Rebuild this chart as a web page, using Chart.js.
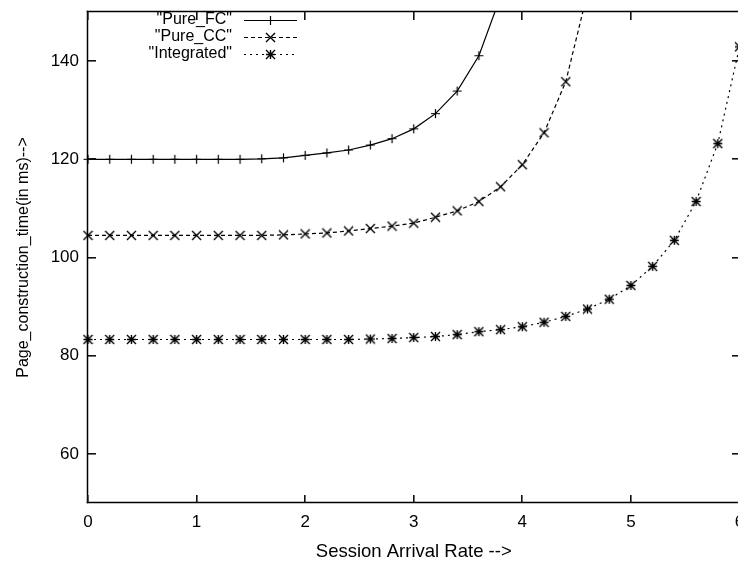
<!DOCTYPE html>
<html>
<head>
<meta charset="utf-8">
<script src="https://cdn.jsdelivr.net/npm/chart.js@4.4.1/dist/chart.umd.min.js"></script>
<style>
  html, body { margin: 0; padding: 0; background: #fff; overflow: hidden; }
  #wrap { width: 760px; height: 565px; }
</style>
</head>
<body>
<div id="wrap"><canvas id="c" width="760" height="565"></canvas></div>
<script>
// Session arrival rate (x) and page construction time in ms (y)
const rates = [0, 0.2, 0.4, 0.6, 0.8, 1.0, 1.2, 1.4, 1.6, 1.8, 2.0, 2.2, 2.4, 2.6, 2.8,
               3.0, 3.2, 3.4, 3.6, 3.8, 4.0, 4.2, 4.4, 4.6, 4.8, 5.0, 5.2, 5.4, 5.6, 5.8, 6.0];

const pureFC = [120.0, 120.0, 120.0, 120.0, 120.0, 120.0, 120.0, 120.0, 120.1, 120.3,
                120.8, 121.3, 121.9, 122.9, 124.2, 126.2, 129.3, 133.9, 141.1, 153.2];

const pureCC = [104.5, 104.5, 104.5, 104.5, 104.5, 104.5, 104.5, 104.5, 104.5, 104.6,
                104.8, 105.0, 105.4, 105.9, 106.4, 107.0, 108.2, 109.5, 111.4, 114.4,
                118.9, 125.4, 135.8, 153.9];

const integrated = [83.3, 83.3, 83.3, 83.3, 83.3, 83.3, 83.3, 83.3, 83.3, 83.3,
                    83.3, 83.3, 83.3, 83.4, 83.5, 83.7, 83.9, 84.3, 84.9, 85.3,
                    85.9, 86.8, 88.0, 89.5, 91.5, 94.3, 98.2, 103.5, 111.4, 123.2, 142.9];

const seriesNames = ['"Pure_FC"', '"Pure_CC"', '"Integrated"'];
const xTicks = [0, 1, 2, 3, 4, 5, 6];
const yTicks = [60, 80, 100, 120, 140];
const xTitle = 'Session Arrival Rate -->';
const yTitle = 'Page_construction_time(in ms)-->';

const FONT = 'Liberation Sans, Arial, Helvetica, sans-serif';

// gnuplot-like point symbols: plus, cross, asterisk
function makeMarker(kind) {
  const s = 11, c = 5.5, h = 4.5;
  const cv = document.createElement('canvas');
  cv.width = s; cv.height = s;
  const g = cv.getContext('2d');
  g.strokeStyle = '#000';
  g.lineWidth = kind === 'plus' ? 1.2 : 1.4;
  g.beginPath();
  if (kind === 'plus' || kind === 'star') {
    g.moveTo(c - h, c); g.lineTo(c + h, c);
    g.moveTo(c, c - h); g.lineTo(c, c + h);
  }
  if (kind === 'cross' || kind === 'star') {
    g.moveTo(c - h, c - h); g.lineTo(c + h, c + h);
    g.moveTo(c - h, c + h); g.lineTo(c + h, c - h);
  }
  g.stroke();
  return cv;
}

function toPoints(ys) {
  return ys.map((y, i) => ({ x: rates[i], y }));
}

const styles = [
  { dash: [], marker: makeMarker('plus') },
  { dash: [4, 3], marker: makeMarker('cross') },
  { dash: [2, 4], marker: makeMarker('star') }
];

const datasets = [pureFC, pureCC, integrated].map((ys, i) => ({
  label: seriesNames[i],
  data: toPoints(ys),
  borderColor: '#000',
  backgroundColor: '#000',
  borderWidth: 1.2,
  borderDash: styles[i].dash,
  pointStyle: styles[i].marker,
  pointRadius: 5,
  pointHoverRadius: 5,
  tension: 0,
  fill: false,
  clip: { left: 10, right: 10, top: 0, bottom: 0 }
}));

// Box border with inward ticks on all four sides
const frameTicks = {
  id: 'frameTicks',
  afterDraw(chart) {
    const ctx = chart.ctx;
    const a = chart.chartArea;
    const xs = chart.scales.x, ys = chart.scales.y;
    const L = a.left - 0.5, R = a.right, T = a.top - 0.5, B = a.bottom - 0.5;
    const tl = 8;
    ctx.save();
    ctx.strokeStyle = '#000';
    ctx.lineWidth = 1.5;
    ctx.setLineDash([]);
    ctx.lineCap = 'square';
    const seg = (x1, y1, x2, y2) => {
      ctx.beginPath();
      ctx.moveTo(x1, y1);
      ctx.lineTo(x2, y2);
      ctx.stroke();
    };
    seg(L, T, R, T);
    seg(L, B, R, B);
    seg(L, T, L, B);
    seg(R, T, R, B);
    // tick marks, pixel aligned
    ctx.fillStyle = '#111';
    yTicks.forEach(v => {
      const p = Math.round(ys.getPixelForValue(v));
      ctx.fillRect(Math.round(L), p - 1, tl, 1.6);
      ctx.fillRect(Math.round(R) - tl, p - 1, tl, 1.6);
    });
    xTicks.forEach(v => {
      const p = Math.round(xs.getPixelForValue(v));
      ctx.fillRect(p - 1, Math.round(B) - tl, 1.6, tl);
      ctx.fillRect(p - 1, Math.round(T), 1.6, tl);
    });
    ctx.restore();
  }
};

// Key in the upper left: right-aligned names followed by a line sample with its symbol
const gnuKey = {
  id: 'gnuKey',
  afterDraw(chart) {
    const ctx = chart.ctx;
    const textRight = 232, x0 = 244, x1 = 297, xm = 270.5;
    const rowY = [20, 37, 54];
    ctx.save();
    ctx.font = '16px ' + FONT;
    ctx.fillStyle = '#000';
    ctx.textAlign = 'right';
    ctx.textBaseline = 'middle';
    chart.data.datasets.forEach((ds, i) => {
      const yy = rowY[i];
      ctx.fillText(ds.label, textRight, yy);
      ctx.strokeStyle = '#000';
      ctx.lineWidth = 1.2;
      ctx.setLineDash(ds.borderDash || []);
      ctx.beginPath();
      ctx.moveTo(x0, yy + 0.5);
      ctx.lineTo(x1, yy + 0.5);
      ctx.stroke();
      ctx.setLineDash([]);
      const m = ds.pointStyle;
      ctx.drawImage(m, Math.round(xm - m.width / 2), yy + 0.5 - m.height / 2);
    });
    ctx.restore();
  }
};

new Chart(document.getElementById('c'), {
  type: 'line',
  data: { datasets },
  options: {
    responsive: false,
    animation: false,
    devicePixelRatio: 1,
    layout: { padding: { left: 0, top: 12, right: 20.5, bottom: 0 } },
    plugins: {
      legend: { display: false },
      tooltip: { enabled: false }
    },
    scales: {
      x: {
        type: 'linear',
        min: 0,
        max: 6,
        afterBuildTicks: s => { s.ticks = xTicks.map(v => ({ value: v })); },
        afterFit: s => { s.height = 62; s.paddingLeft = 0; s.paddingRight = 0; },
        grid: { display: false, drawTicks: false },
        border: { display: false },
        ticks: { padding: 8.8, color: '#000', font: { family: FONT, size: 17 }, maxRotation: 0 },
        title: { display: true, text: xTitle, color: '#000', font: { family: FONT, size: 18.5 }, padding: { top: 4, bottom: 1.9 } }
      },
      y: {
        type: 'linear',
        min: 50,
        max: 150,
        afterBuildTicks: s => { s.ticks = yTicks.map(v => ({ value: v })); },
        afterFit: s => { s.width = 88; s.paddingTop = 0; s.paddingBottom = 0; },
        grid: { display: false, drawTicks: false },
        border: { display: false },
        ticks: { padding: 9, color: '#000', font: { family: FONT, size: 17 } },
        title: { display: true, text: yTitle, color: '#000', font: { family: FONT, size: 16 }, padding: { top: 14.4, bottom: 4 } }
      }
    }
  },
  plugins: [frameTicks, gnuKey]
});
</script>
</body>
</html>
